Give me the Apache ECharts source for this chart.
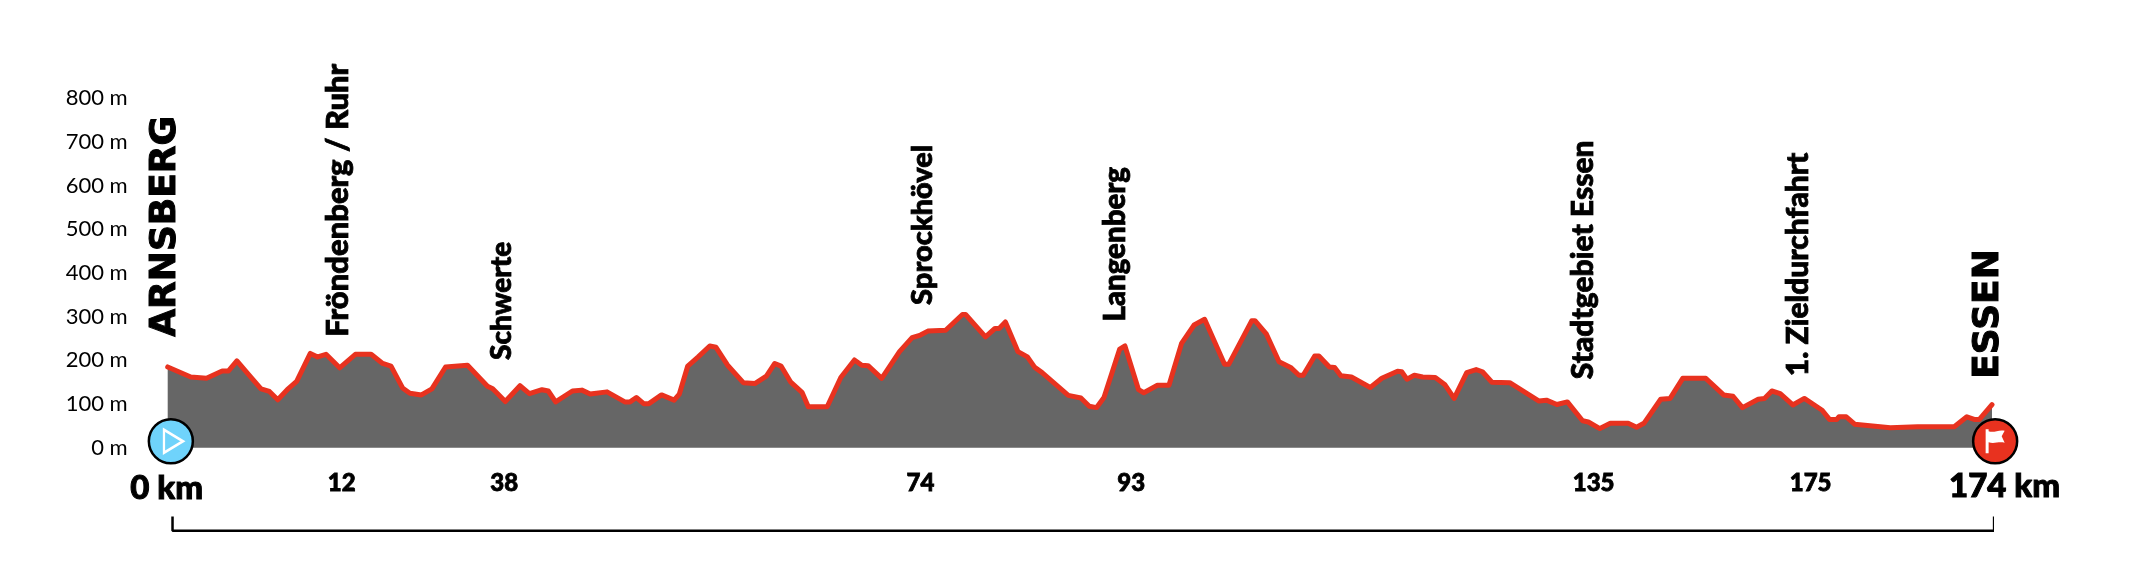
<!DOCTYPE html>
<html>
<head>
<meta charset="utf-8">
<style>
  html, body { margin: 0; padding: 0; background: #fff; }
  #main { width: 2138px; height: 580px; }
</style>
<script src="https://cdn.jsdelivr.net/npm/echarts@6/dist/echarts.min.js"></script>
</head>
<body>
<div id="main"></div>
<script>
// profile
const distanceKm = [0, 2.2, 3.7, 5.2, 5.8, 6.6, 7.7, 8.9, 9.7, 10.5, 11.4, 12.3, 13.6, 14.3, 15.1, 16.4, 17.9, 19.4, 20.5, 21.3, 22.4, 23.1, 24.2, 25.2, 26.5, 28.6, 30.5, 31.0, 32.2, 33.6, 34.5, 35.7, 36.3, 37.0, 38.6, 39.5, 40.3, 41.9, 43.6, 44.1, 44.7, 45.4, 45.9, 47.1, 48.3, 48.8, 49.6, 50.6, 51.7, 52.3, 53.4, 54.9, 56.0, 57.1, 57.9, 58.5, 59.4, 60.5, 61.1, 62.9, 64.2, 65.5, 66.2, 66.8, 68.1, 69.8, 71.0, 71.8, 72.5, 74.2, 75.8, 76.1, 78.0, 78.9, 79.3, 79.9, 81.1, 82.0, 82.7, 83.4, 85.9, 87.1, 87.9, 88.6, 89.3, 90.8, 91.3, 92.6, 93.1, 94.4, 95.5, 96.7, 97.9, 98.9, 100.8, 101.2, 103.4, 103.7, 104.8, 106.0, 107.1, 107.9, 108.3, 109.4, 109.8, 110.8, 111.3, 111.9, 112.9, 114.7, 115.8, 117.3, 117.7, 118.2, 118.9, 119.7, 120.9, 121.8, 122.7, 123.9, 124.8, 125.4, 126.3, 128.0, 130.8, 131.5, 132.5, 133.5, 134.95, 135.5, 136.6, 137.6, 139.3, 140.1, 140.8, 142.4, 143.3, 144.5, 146.7, 148.4, 149.3, 150.2, 151.7, 152.3, 153.0, 153.8, 155.0, 156.1, 157.8, 158.5, 159.2, 159.4, 160.1, 160.9, 164.3, 166.9, 170.4, 171.6, 172.3, 172.8, 174];
const elevationM = [185, 162, 159, 176, 176, 199, 168, 135, 129, 110, 133, 152, 216, 208, 214, 183, 214, 214, 193, 187, 137, 125, 121, 135, 185, 189, 141, 135, 106, 142, 124, 133, 130, 105, 130, 132, 123, 128, 105, 105, 115, 101, 101, 121, 109, 123, 187, 208, 233, 230, 189, 149, 147, 164, 193, 187, 151, 127, 94, 94, 161, 201, 189, 188, 159, 220, 252, 258, 267, 269, 305, 305, 254, 273, 273, 288, 220, 208, 184, 172, 120, 114, 95, 92, 115, 226, 233, 133, 126, 143, 143, 239, 281, 294, 191, 191, 291, 291, 260, 197, 184, 166, 166, 210, 210, 185, 184, 165, 162, 138, 159, 175, 174, 157, 166, 162, 161, 145, 113, 172, 179, 174, 150, 149, 107, 109, 99, 105, 62, 59, 44, 56, 56, 47, 56, 111, 113, 159, 159, 121, 118, 92, 111, 113, 130, 124, 98, 113, 86, 65, 65, 71, 71, 54, 46, 48, 48, 71, 65, 65, 99];

// places along the route
const placeNames = ['Fröndenberg / Ruhr', 'Schwerte', 'Sprockhövel', 'Langenberg', 'Stadtgebiet Essen', '1. Zieldurchfahrt'];
const placeX = [16.2, 31.9, 72.0, 90.4, 135.0, 155.5];
const placeTextY = [254, 201, 327, 289, 157, 164];
const placeKm = ['12', '38', '74', '93', '135', '175'];
const kmLabelX = [16.6, 32.1, 71.8, 91.9, 136, 156.7];

const startName = 'ARNSBERG';
const finishName = 'ESSEN';
const startKm = '0 km';
const finishKm = '174 km';

const FONT = '"Lato Black", Lato, "Noto Sans", sans-serif';
const BIG_FONT = '"DejaVu Sans", sans-serif';
const FLAG = 'path://M1,0 L3.5,0 L3.5,2 C8,4 12,0 17,1.5 L14.5,7 L17,13.5 C12,12 8,15 3.5,13 L3.5,24 L1,24 Z';
const placeFontSizes = [31, 28, 29, 29.5, 30, 30];

const chart = echarts.init(document.getElementById('main'), null, { renderer: 'canvas' });

function textPoint(x, y, text, size, stroke, rotate, family) {
  return {
    value: [x, y],
    label: {
      show: true,
      formatter: text,
      position: 'inside',
      rotate: rotate ? 90 : 0,
      align: rotate ? 'left' : 'center',
      verticalAlign: 'middle',
      fontFamily: family || FONT,
      fontSize: size,
      fontWeight: 900,
      color: '#000',
      textBorderColor: '#000',
      textBorderWidth: stroke
    }
  };
}

const texts = [
  textPoint(-0.15, 254, startName, 36, 1, true, BIG_FONT),
  textPoint(173.7, 158, finishName, 36, 1, true, BIG_FONT),
  textPoint(-0.1, -92, startKm, 33, 1, false),
  textPoint(175.2, -88, finishKm, 33, 1, false)
];
placeNames.forEach(function (name, i) {
  texts.push(textPoint(placeX[i], placeTextY[i], name, placeFontSizes[i], 0.8, true));
  texts.push(textPoint(kmLabelX[i], -81, placeKm[i], 24, 0.8, false));
});

chart.setOption({
  backgroundColor: '#fff',
  animation: false,
  grid: { left: 167.7, right: 146, top: 98.2, bottom: 132.2 },
  xAxis: { type: 'value', min: 0, max: 174, show: false },
  yAxis: {
    type: 'value',
    min: 0,
    max: 800,
    interval: 100,
    axisLine: { show: false },
    axisTick: { show: false },
    splitLine: { show: false },
    axisLabel: {
      formatter: '{value} m',
      margin: 40,
      fontFamily: 'Lato, "Noto Sans", sans-serif',
      fontSize: 22,
      color: '#000'
    }
  },
  series: [
    {
      type: 'line',
      data: distanceKm.map(function (km, i) { return [km, elevationM[i]]; }),
      symbol: 'none',
      clip: false,
      lineStyle: { color: '#e8321f', width: 5, cap: 'round', join: 'round' },
      areaStyle: { color: '#666', opacity: 1 },
      z: 2
    },
    {
      // bracket under the profile
      type: 'line',
      data: [[0.46, -157], [0.46, -190], [174.2, -190], [174.2, -157]],
      symbol: 'none',
      clip: false,
      lineStyle: { color: '#000', width: 2.5 },
      z: 2
    },
    {
      type: 'scatter',
      clip: false,
      symbolSize: 0,
      itemStyle: { opacity: 1 }, // scatter defaults to 0.8, and the labels follow it
      data: texts,
      z: 3
    },
    {
      // start and finish badges
      type: 'scatter',
      clip: false,
      symbol: 'circle',
      symbolSize: 44,
      data: [
        { value: [0.3, 15], itemStyle: { color: '#6fd3fb' } },
        { value: [174.3, 15], itemStyle: { color: '#e8321f' } }
      ],
      itemStyle: { borderColor: '#000', borderWidth: 2.5, opacity: 1 },
      z: 4
    },
    {
      type: 'scatter',
      clip: false,
      z: 5,
      data: [
        {
          value: [0.55, 15],
          symbol: 'triangle',
          symbolSize: [23, 19],
          symbolRotate: -90,
          itemStyle: { color: 'rgba(0,0,0,0)', borderColor: '#fff', borderWidth: 2.5, opacity: 1 }
        },
        {
          value: [174.3, 15],
          symbol: FLAG,
          symbolSize: [19, 24],
          itemStyle: { color: '#fff', opacity: 1 }
        }
      ]
    }
  ]
});
</script>
</body>
</html>
